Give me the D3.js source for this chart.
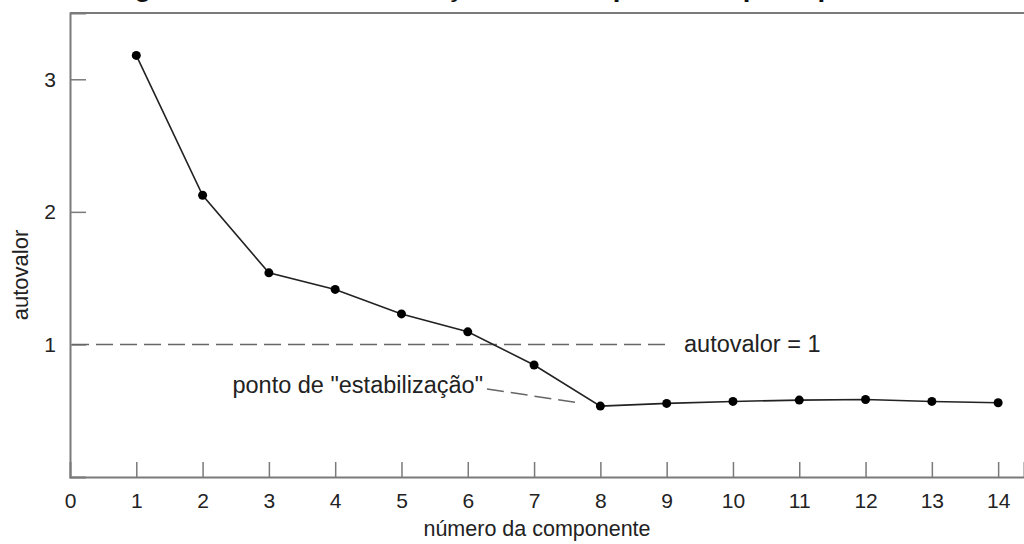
<!DOCTYPE html>
<html>
<head>
<meta charset="utf-8">
<script src="https://cdn.jsdelivr.net/npm/d3@7"></script>
<style>
  html, body { margin: 0; padding: 0; background: #fff; }
  svg { display: block; }
  text { font-family: "Liberation Sans", Arial, sans-serif; fill: #222; }
</style>
</head>
<body>
<div id="chart"></div>
<script>
// Scree plot data
const components = [1, 2, 3, 4, 5, 6, 7, 8, 9, 10, 11, 12, 13, 14];
const eigenvalues = [3.18, 2.125, 1.54, 1.415, 1.23, 1.095, 0.845, 0.535, 0.555, 0.57, 0.58, 0.585, 0.57, 0.56];
const xTicks = [0, 1, 2, 3, 4, 5, 6, 7, 8, 9, 10, 11, 12, 13, 14];
const yTicks = [1, 2, 3];
const threshold = 1;
const titleText = "Figura 1 – Critério de seleção das componentes principais";

const width = 1024, height = 544;
const margin = {top: 13, right: 0, bottom: 67, left: 70};

const svg = d3.select("#chart")
  .append("svg")
  .attr("width", width)
  .attr("height", height);

const x = d3.scaleLinear()
  .domain([0, 14.39])
  .range([margin.left, width - margin.right]);

const y = d3.scaleLinear()
  .domain([0, 3.5])
  .range([height - margin.bottom, margin.top]);

const axisColor = "#7a7a7a";

// title, cut off at the top edge like in the source picture
svg.append("text")
  .attr("x", 110)
  .attr("y", -4)
  .attr("font-size", 27.5)
  .attr("font-weight", "bold")
  .style("fill", "#111")
  .text(titleText);

// frame top line
svg.append("line")
  .attr("x1", x(0)).attr("x2", width)
  .attr("y1", y(3.5)).attr("y2", y(3.5))
  .attr("stroke", axisColor).attr("stroke-width", 2);

// x axis
const xAxis = svg.append("g")
  .attr("transform", `translate(0,${y(0)})`)
  .call(d3.axisBottom(x).tickValues(xTicks).tickSize(-15).tickPadding(0).tickFormat(d3.format("d")));
xAxis.select(".domain").attr("stroke", axisColor).attr("stroke-width", 2);
xAxis.selectAll(".tick line").attr("stroke", axisColor).attr("stroke-width", 1.5);
xAxis.selectAll(".tick line").filter(d => d === 0).remove();
xAxis.selectAll(".tick text")
  .attr("font-size", 21)
  .attr("dy", null)
  .attr("y", 31)
  .style("font-family", "Liberation Sans, Arial, sans-serif")
  .style("fill", "#222");

// y axis
const yAxis = svg.append("g")
  .attr("transform", `translate(${x(0)},0)`)
  .call(d3.axisLeft(y).tickValues(yTicks).tickSize(-16).tickPadding(0).tickFormat(d3.format("d")));
yAxis.select(".domain").attr("stroke", axisColor).attr("stroke-width", 2);
yAxis.selectAll(".tick line").attr("stroke", axisColor).attr("stroke-width", 1.5);
yAxis.selectAll(".tick text")
  .attr("font-size", 21)
  .attr("x", -14)
  .style("font-family", "Liberation Sans, Arial, sans-serif")
  .style("fill", "#222");

// axis titles
svg.append("text")
  .attr("x", 537)
  .attr("y", 536)
  .attr("text-anchor", "middle")
  .attr("font-size", 21.5)
  .text("número da componente");

svg.append("text")
  .attr("transform", `translate(28,275) rotate(-90)`)
  .attr("text-anchor", "middle")
  .attr("font-size", 22)
  .text("autovalor");

// threshold dashed line
svg.append("line")
  .attr("x1", x(0) + 2).attr("x2", 672)
  .attr("y1", y(threshold)).attr("y2", y(threshold))
  .attr("stroke", "#666").attr("stroke-width", 1.5)
  .attr("stroke-dasharray", "17,7");

svg.append("text")
  .attr("x", 684)
  .attr("y", y(threshold) + 8)
  .attr("font-size", 23.5)
  .text("autovalor = 1");

// elbow annotation
svg.append("line")
  .attr("x1", 487).attr("y1", 389)
  .attr("x2", x(8) - 20).attr("y2", y(eigenvalues[7]) - 3)
  .attr("stroke", "#666").attr("stroke-width", 1.5)
  .attr("stroke-dasharray", "17,7");

svg.append("text")
  .attr("x", 483)
  .attr("y", 393)
  .attr("text-anchor", "end")
  .attr("font-size", 23.5)
  .text("ponto de \"estabilização\"");

// line and points
const data = components.map((c, i) => ({c, v: eigenvalues[i]}));

svg.append("path")
  .datum(data)
  .attr("fill", "none")
  .attr("stroke", "#222")
  .attr("stroke-width", 1.6)
  .attr("d", d3.line().x(d => x(d.c)).y(d => y(d.v)));

svg.selectAll("circle.pt")
  .data(data)
  .enter()
  .append("circle")
  .attr("class", "pt")
  .attr("cx", d => x(d.c))
  .attr("cy", d => y(d.v))
  .attr("r", 4.5)
  .attr("fill", "#000");
</script>
</body>
</html>
